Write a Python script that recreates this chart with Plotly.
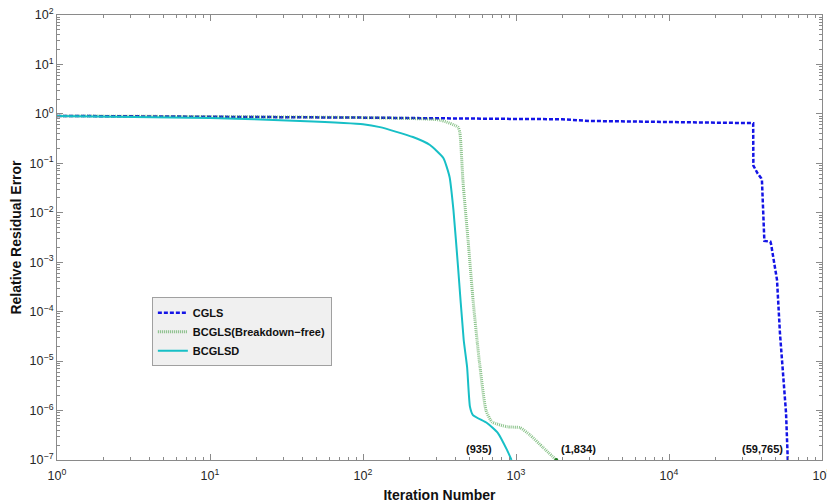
import math
import plotly.graph_objects as go

# ---- data ----
cgls_x = [1, 10, 100, 1000, 2000, 3000, 10000, 30000, 35500, 35600, 38000, 40000, 40500, 42000, 46000, 46500, 50800, 53100, 58200, 59765]
cgls_y = [0.91, 0.88, 0.84, 0.79, 0.78, 0.72, 0.69, 0.66, 0.65, 0.09, 0.062, 0.05, 0.045, 0.0027, 0.0026, 0.0023, 4.4e-4, 3.7e-5, 9e-7, 1e-7]

bcgls_x = [1, 10, 100, 319, 418, 430, 451, 486, 524, 556, 582, 637, 697, 873, 1062, 1235, 1501, 1834]
bcgls_y = [0.91, 0.88, 0.84, 0.75, 0.54, 0.41, 0.040, 0.0028, 1.7e-4, 2.7e-5, 7.6e-6, 1.0e-6, 5.9e-7, 4.7e-7, 4.5e-7, 3.2e-7, 1.8e-7, 1e-7]

bcglsd_x = [1, 10, 38.7, 100, 129, 212, 274, 335, 368, 390, 418, 455, 479, 500, 523, 646, 762, 873, 935]
bcglsd_y = [0.906, 0.83, 0.72, 0.62, 0.54, 0.34, 0.235, 0.128, 0.053, 0.0114, 8.0e-4, 2.7e-5, 7.6e-6, 1.2e-6, 8.1e-7, 5.6e-7, 3.5e-7, 1.6e-7, 1e-7]

notes = [("(935)", 935, 1e-7), ("(1,834)", 1834, 1e-7), ("(59,765)", 59765, 1e-7)]

x_exps = [0, 1, 2, 3, 4, 5]
y_exps = [-7, -6, -5, -4, -3, -2, -1, 0, 1, 2]

FONT = "Liberation Sans, Arial, sans-serif"
AX = "#8a8a8a"


def pow_label(e):
    s = str(e).replace("-", "\u2212")
    return "10<sup>" + s + "</sup>"


fig = go.Figure()
fig.add_trace(go.Scatter(x=cgls_x, y=cgls_y, mode="lines", name="<b>CGLS</b>",
                         line=dict(color="#1414e6", width=2.5, dash="4px,2px")))
fig.add_trace(go.Scatter(x=bcgls_x, y=bcgls_y, mode="lines", name="<b>BCGLS(Breakdown\u2212free)</b>",
                         line=dict(color="rgba(70,160,70,0.65)", width=3, dash="1px,1px",
                                   shape="spline", smoothing=0.5)))
fig.add_trace(go.Scatter(x=[bcgls_x[-1]], y=[bcgls_y[-1]], mode="markers", showlegend=False,
                         marker=dict(color="#1f7a1f", size=4)))
fig.add_trace(go.Scatter(x=bcglsd_x, y=bcglsd_y, mode="lines", name="<b>BCGLSD</b>",
                         line=dict(color="#17bfc6", width=2, shape="spline", smoothing=0.5)))

anchors = ["right", "left", "right"]
shifts = [-18, 3, -3]
for (t, x, y), a, s in zip(notes, anchors, shifts):
    fig.add_annotation(x=math.log10(x), y=math.log10(y), xref="x", yref="y", text="<b>" + t + "</b>",
                       showarrow=False, xanchor=a, yanchor="bottom", yshift=3, xshift=s,
                       font=dict(family=FONT, size=11, color="#111"))

axis_common = dict(type="log", showgrid=False, zeroline=False, showline=True, linecolor=AX, linewidth=1,
                   mirror="allticks", ticks="inside", ticklen=6, tickcolor=AX,
                   ticklabeloverflow="allow", automargin=False,
                   tickfont=dict(family=FONT, size=12.5, color="#262626"),
                   minor=dict(ticks="inside", ticklen=3, tickcolor=AX, dtick="D1", showgrid=False))

fig.update_xaxes(**axis_common, range=[0, 5], ticklabelstandoff=4,
                 tickvals=[10 ** e for e in x_exps], ticktext=[pow_label(e) for e in x_exps],
                 title=dict(text="<b>Iteration Number</b>", font=dict(family=FONT, size=14, color="#111"),
                            standoff=8))
fig.update_yaxes(**axis_common, range=[-7, 2],
                 tickvals=[10 ** e for e in y_exps], ticktext=[pow_label(e) for e in y_exps],
                 title=dict(text="<b>Relative Residual Error</b>", font=dict(family=FONT, size=14, color="#111"),
                            standoff=4))

fig.update_layout(width=827, height=504, margin=dict(l=57, r=5, t=15, b=44),
                  plot_bgcolor="white", paper_bgcolor="white",
                  legend=dict(x=0.124, y=0.366, xanchor="left", yanchor="top", bgcolor="#f0f0f0",
                              bordercolor="#a0a0a0", borderwidth=1, tracegroupgap=0,
                              font=dict(family=FONT, size=11, color="#111"), itemwidth=30))

fig.write_html("out.html")
